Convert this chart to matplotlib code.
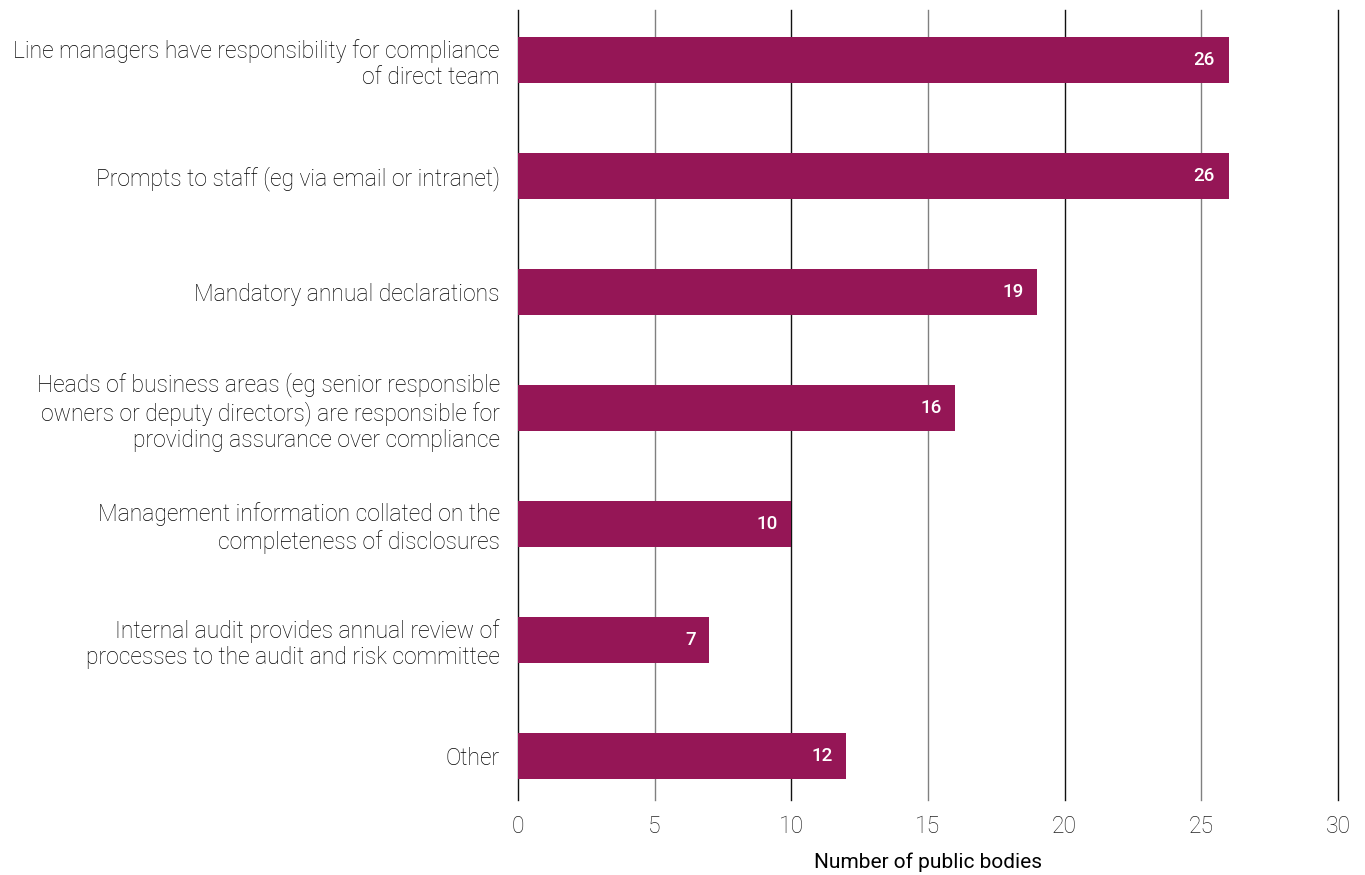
import matplotlib
matplotlib.use("Agg")
import matplotlib.pyplot as plt
import numpy as np

plt.rcParams["font.family"] = ["Roboto", "DejaVu Sans"]
plt.rcParams["font.size"] = 16.5

categories = [
    "Line managers have responsibility for compliance\nof direct team",
    "Prompts to staff (eg via email or intranet)",
    "Mandatory annual declarations",
    "Heads of business areas (eg senior responsible\nowners or deputy directors) are responsible for\nproviding assurance over compliance",
    "Management information collated on the\ncompleteness of disclosures",
    "Internal audit provides annual review of\nprocesses to the audit and risk committee",
    "Other",
]
counts = [26, 26, 19, 16, 10, 7, 12]
x_ticks = [0, 5, 10, 15, 20, 25, 30]

fig = plt.figure(figsize=(13.65, 8.75), dpi=100)
ax = fig.add_axes([518 / 1365, 1 - 800 / 875, 820 / 1365, 790 / 875])

y = np.arange(len(categories))
bars = ax.barh(y, counts, height=0.4, color="#951656", zorder=3)

# vertical grid: tens in black, fives in grey
for t in x_ticks:
    ax.axvline(t, color="#111111" if t % 10 == 0 else "#808080", lw=1.0,
               zorder=1, clip_on=False)

for b, v in zip(bars, counts):
    ax.text(b.get_width() - 0.5, b.get_y() + b.get_height() / 2, str(v),
            ha="right", va="center", color="white", fontsize=13.5, fontweight="medium", zorder=4)

ax.set_xlim(0, 30)
ax.set_ylim(6.38, -0.43)
ax.set_yticks(y)
ax.set_yticklabels(categories, color="#000000", fontweight="light", linespacing=1.2)
ax.set_xticks(x_ticks)
ax.set_xticklabels([str(t) for t in x_ticks], color="#222222", fontweight="light")
ax.tick_params(axis="both", length=0)
ax.tick_params(axis="x", pad=11)
ax.tick_params(axis="y", pad=13)
for s in ax.spines.values():
    s.set_visible(False)

ax.set_xlabel("Number of public bodies", fontsize=15, color="#000000", labelpad=10)

fig.savefig("out.png", dpi=100)
